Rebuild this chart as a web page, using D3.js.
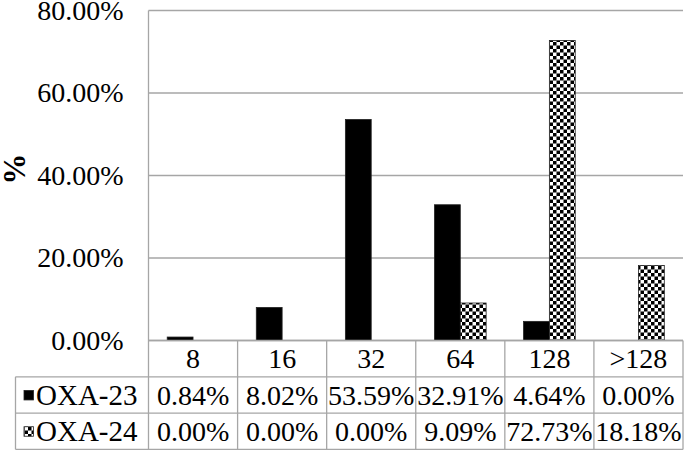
<!DOCTYPE html>
<html>
<head>
<meta charset="utf-8">
<script src="https://cdn.jsdelivr.net/npm/d3@7"></script>
<style>
  body { margin: 0; background: #fff; }
</style>
</head>
<body>
<svg id="container"></svg>
<script>
const categories = ["8", "16", "32", "64", "128", ">128"];
const series = ["OXA-23", "OXA-24"];
const oxa23 = [0.84, 8.02, 53.59, 32.91, 4.64, 0.00];
const oxa24 = [0.00, 0.00, 0.00, 9.09, 72.73, 18.18];
const yTicks = [0, 20, 40, 60, 80];

const W = 685, H = 452;
const plotLeft = 148.5, plotRight = 683, plotTop = 10.5, base = 340.5;
const rowH = 36.3;
const legendLeft = 15.5;
const gridColor = "#a6a6a6";
const serif = "'Liberation Serif'";
const fs = 28;

var svg = d3.select("#container").attr("width", W).attr("height", H);

// checker fill for OXA-24
var defs = svg.append("defs");
var pat = defs.append("pattern")
  .attr("id", "checker")
  .attr("patternUnits", "userSpaceOnUse")
  .attr("width", 7).attr("height", 7);
pat.append("rect").attr("width", 7).attr("height", 7).attr("fill", "#fff");
pat.append("rect").attr("width", 3.5).attr("height", 3.5).attr("fill", "#000");
pat.append("rect").attr("x", 3.5).attr("y", 3.5).attr("width", 3.5).attr("height", 3.5).attr("fill", "#000");

const fills = ["#000", "url(#checker)"];
const values = [oxa23, oxa24];

var xScale = d3.scaleBand().domain(categories).range([plotLeft, plotRight]);
var bw = xScale.bandwidth();
var xSub = d3.scaleBand().domain(series).range([bw * 0.21, bw * 0.79]);
var yScale = d3.scaleLinear().domain([0, 80]).range([base, plotTop]);

// gridlines
svg.append("g").selectAll("line")
  .data(yTicks)
  .enter().append("line")
  .attr("x1", plotLeft).attr("x2", plotRight)
  .attr("y1", d => yScale(d))
  .attr("y2", d => yScale(d))
  .attr("stroke", gridColor).attr("stroke-width", 1.3);

// y axis labels
var yAxis = d3.axisLeft(yScale)
  .tickValues(yTicks)
  .tickSize(0)
  .tickPadding(25)
  .tickFormat(d => d.toFixed(2) + "%");
var gY = svg.append("g")
  .attr("transform", "translate(" + plotLeft + ",0)")
  .call(yAxis);
gY.select(".domain").remove();
gY.selectAll(".tick text")
  .style("font-family", serif)
  .style("font-size", fs + "px")
  .attr("fill", "#000");

// axis title
svg.append("text")
  .attr("transform", "translate(25,169) rotate(-90)")
  .attr("text-anchor", "middle")
  .style("font-family", serif)
  .style("font-size", "31px")
  .style("font-weight", "bold")
  .text("%");

// bars
var groups = svg.append("g").selectAll("g")
  .data(series)
  .enter().append("g");
groups.selectAll("rect")
  .data((s, si) => categories.map((c, i) => ({ cat: c, s: s, si: si, v: values[si][i] })))
  .enter().append("rect")
  .filter(d => d.v > 0)
  .attr("x", d => xScale(d.cat) + xSub(d.s))
  .attr("y", d => yScale(d.v))
  .attr("width", xSub.bandwidth())
  .attr("height", d => base - yScale(d.v))
  .attr("fill", d => fills[d.si])
  .attr("stroke", "#222")
  .attr("stroke-width", 0.8);

// data table
var table = svg.append("g");
var rowsY = [base, base + rowH, base + 2 * rowH, base + 3 * rowH];

table.append("line").attr("x1", plotLeft).attr("x2", plotRight)
  .attr("y1", rowsY[0]).attr("y2", rowsY[0]).attr("stroke", gridColor).attr("stroke-width", 1.3);
[1, 2, 3].forEach(function(r) {
  table.append("line").attr("x1", legendLeft).attr("x2", plotRight)
    .attr("y1", rowsY[r]).attr("y2", rowsY[r]).attr("stroke", gridColor).attr("stroke-width", 1.3);
});

var colEdges = categories.map(c => xScale(c)).concat([plotRight]);
table.selectAll(".vcol")
  .data(colEdges)
  .enter().append("line")
  .attr("x1", d => d).attr("x2", d => d)
  .attr("y1", (d, i) => i === 0 ? plotTop : rowsY[0])
  .attr("y2", rowsY[3])
  .attr("stroke", gridColor).attr("stroke-width", 1.3);
table.append("line").attr("x1", legendLeft).attr("x2", legendLeft)
  .attr("y1", rowsY[1]).attr("y2", rowsY[3]).attr("stroke", gridColor).attr("stroke-width", 1.3);

// header labels
table.selectAll(".cat")
  .data(categories)
  .enter().append("text")
  .attr("x", d => xScale(d) + bw / 2)
  .attr("y", rowsY[0] + rowH / 2)
  .attr("dy", "0.35em")
  .attr("text-anchor", "middle")
  .style("font-family", serif)
  .style("font-size", fs + "px")
  .text(d => d);

// value rows + legend keys
series.forEach(function(s, si) {
  var yMid = rowsY[si + 1] + rowH / 2;
  table.append("g").selectAll("text")
    .data(values[si])
    .enter().append("text")
    .attr("x", (d, i) => xScale(categories[i]) + bw / 2)
    .attr("y", yMid)
    .attr("dy", "0.35em")
    .attr("text-anchor", "middle")
    .style("font-family", serif)
    .style("font-size", fs + "px")
    .text(d => d.toFixed(2) + "%");

  table.append("rect")
    .attr("x", 24).attr("y", yMid - 4.5)
    .attr("width", 9.5).attr("height", 9.5)
    .attr("fill", fills[si])
    .attr("stroke", "#222").attr("stroke-width", 0.8);
  table.append("text")
    .attr("x", 36).attr("y", yMid)
    .attr("dy", "0.35em")
    .style("font-family", serif)
    .style("font-size", "29px")
    .text(s);
});
</script>
</body>
</html>
